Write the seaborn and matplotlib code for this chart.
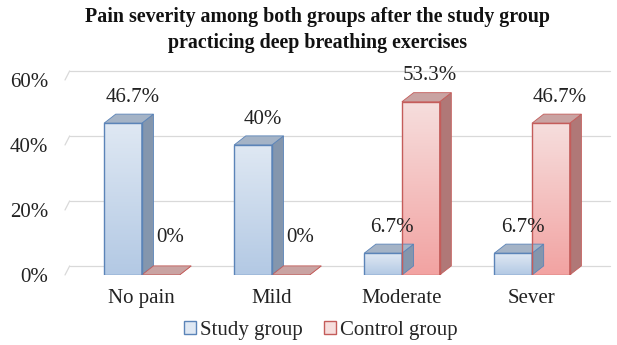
import numpy as np
import pandas as pd
import matplotlib
matplotlib.use("Agg")
import matplotlib.pyplot as plt
import seaborn as sns
from matplotlib.patches import Polygon, Patch
from matplotlib.colors import LinearSegmentedColormap

categories = ["No pain", "Mild", "Moderate", "Sever"]
study_values = [46.7, 40.0, 6.7, 6.7]
control_values = [0.0, 0.0, 53.3, 46.7]
groups = ["Study group", "Control group"]
value_labels_study = ["46.7%", "40%", "6.7%", "6.7%"]
value_labels_control = ["0%", "0%", "53.3%", "46.7%"]

df = pd.DataFrame({
    "Severity": categories * 2,
    "Group": [groups[0]] * 4 + [groups[1]] * 4,
    "Value": [v / 100 for v in study_values] + [v / 100 for v in control_values],
})

sns.set_theme(style="white")
plt.rcParams["font.family"] = ["Liberation Serif", "DejaVu Serif"]

fig = plt.figure(figsize=(6.17, 3.45), dpi=100)
ax = fig.add_axes([65 / 617, 1 - 275 / 345, 545 / 617, 195 / 345])

style = {
    groups[0]: dict(top="#dfe8f3", bottom="#b3c9e4", edge="#5b84b8", side="#8496ad", cap="#a4b3c6"),
    groups[1]: dict(top="#f6dedd", bottom="#f2a3a2", edge="#c45c5a", side="#b07877", cap="#c9a3a2"),
}

sns.barplot(data=df, x="Severity", y="Value", hue="Group", order=categories,
            hue_order=groups, width=0.58, ax=ax, legend=False,
            palette=[style[g]["bottom"] for g in groups], saturation=1)

ax.set_xlim(-0.59, 3.6)
ax.set_ylim(0, 0.6)
ax.set_yticks([0, 0.2, 0.4, 0.6])
ax.set_yticklabels(["0%", "20%", "40%", "60%"], fontsize=15, color="#222222")
ax.tick_params(axis="y", pad=12, length=0)
ax.tick_params(axis="x", length=0, pad=10)
ax.set_xticks(range(len(categories)))
ax.set_xticklabels(categories, fontsize=15, color="#222222")
ax.set_xlabel("")
ax.set_ylabel("")
for s in ax.spines.values():
    s.set_visible(False)

dx, dy = 0.09, 0.028
# gridlines on back wall
for yv in [0, 0.2, 0.4, 0.6]:
    ax.plot([-0.59 + dx * 0.4, 3.6], [yv + dy, yv + dy], color="#d9d9d9", lw=0.9, zorder=0, clip_on=False)
    ax.plot([-0.59, -0.59 + dx * 0.4], [yv, yv + dy], color="#d9d9d9", lw=0.9, zorder=0, clip_on=False)

containers = ax.containers
for cont, g in zip(containers, groups):
    st = style[g]
    cmap = LinearSegmentedColormap.from_list("g", [st["bottom"], st["top"]])
    for bar in cont.patches:
        x0 = bar.get_x()
        w = bar.get_width()
        h = bar.get_height()
        bar.set_facecolor("none")
        bar.set_edgecolor(st["edge"])
        bar.set_linewidth(1.0)
        bar.set_zorder(4)
        side = Polygon([[x0 + w, 0], [x0 + w + dx, dy], [x0 + w + dx, h + dy], [x0 + w, h]],
                       closed=True, facecolor=st["side"], edgecolor=st["edge"], lw=0.6, zorder=3)
        ax.add_patch(side)
        top = Polygon([[x0, h], [x0 + dx, h + dy], [x0 + w + dx, h + dy], [x0 + w, h]],
                      closed=True, facecolor=st["cap"], edgecolor=st["edge"], lw=0.6, zorder=3)
        ax.add_patch(top)
        if h > 0:
            grad = np.linspace(0, 1, 100).reshape(-1, 1)
            im = ax.imshow(grad, extent=[x0, x0 + w, 0, h], origin="lower", aspect="auto",
                           cmap=cmap, zorder=2)
            im.set_clip_path(bar)

ax.set_xlim(-0.59, 3.6)
ax.set_ylim(0, 0.6)

for cont, labels in zip(containers, [value_labels_study, value_labels_control]):
    for bar, lab in zip(cont.patches, labels):
        h = bar.get_height()
        ypos = max(h + 0.08, 0.114)
        ax.text(bar.get_x() + bar.get_width() / 2 + dx * 0.8, ypos, lab, ha="center", va="center",
                fontsize=15, color="#222222", zorder=6)

fig.text(0.515, 0.98, "Pain severity among both groups after the study group\npracticing deep breathing exercises",
         ha="center", va="top", fontsize=14.4, fontweight="bold", color="#111111", linespacing=1.4)

handles = [Patch(facecolor=style[g]["top"], edgecolor=style[g]["edge"], label=g) for g in groups]
fig.legend(handles=handles, loc="lower center", bbox_to_anchor=(0.52, -0.04), ncol=2, frameon=False,
           fontsize=15, handlelength=0.6, handleheight=0.6, handletextpad=0.2, columnspacing=1.0)

fig.savefig("out.png", dpi=100)
